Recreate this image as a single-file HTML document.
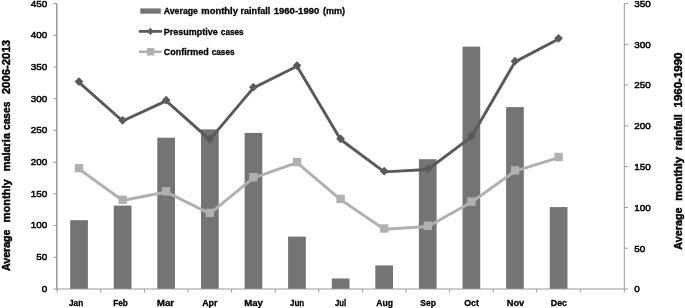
<!DOCTYPE html>
<html lang="en"><head><meta charset="utf-8"><title>Average monthly malaria cases and rainfall</title>
<style>html,body{margin:0;padding:0;background:#fff}body{width:685px;height:308px;overflow:hidden}svg{display:block}text{font-family:"Liberation Sans",sans-serif;fill:#000;stroke:#000}.leg{font-size:380px;stroke-width:12px;font-weight:bold}.xl{font-size:380px;stroke-width:12px;font-weight:bold}.tk{font-size:396px;stroke-width:20px}.ttl{font-size:472px;stroke-width:18px;font-weight:bold}</style></head><body>
<svg width="685" height="308" viewBox="0 0 685 308">
<rect width="685" height="308" fill="#fff"/>
<g fill="#747474">
<rect x="70.2" y="220.2" width="17.7" height="68.8"/>
<rect x="113.8" y="205.6" width="17.7" height="83.4"/>
<rect x="157.3" y="137.7" width="17.7" height="151.3"/>
<rect x="201.0" y="129.4" width="17.7" height="159.6"/>
<rect x="244.6" y="132.9" width="17.7" height="156.1"/>
<rect x="288.1" y="236.6" width="17.7" height="52.4"/>
<rect x="331.8" y="278.5" width="17.7" height="10.5"/>
<rect x="375.3" y="265.4" width="17.7" height="23.6"/>
<rect x="418.9" y="159.2" width="17.7" height="129.8"/>
<rect x="462.5" y="46.6" width="17.7" height="242.4"/>
<rect x="506.1" y="107.1" width="17.7" height="181.9"/>
<rect x="549.8" y="207.1" width="17.7" height="81.9"/>
</g>
<path d="M56.8 3.6V289.0" stroke="#8a8a8a" stroke-width="1.3" fill="none"/>
<g stroke="#9a9a9a" stroke-width="1" fill="none">
<path d="M56.2 289.0H624.8"/>
<path d="M624.3 3.6V289.5"/>
<path d="M53.3 289.0H56.8M53.3 257.3H56.8M53.3 225.6H56.8M53.3 193.9H56.8M53.3 162.2H56.8M53.3 130.4H56.8M53.3 98.7H56.8M53.3 67.0H56.8M53.3 35.3H56.8M53.3 3.6H56.8M624.3 289.0H628.0M624.3 248.2H628.0M624.3 207.5H628.0M624.3 166.7H628.0M624.3 125.9H628.0M624.3 85.1H628.0M624.3 44.4H628.0M624.3 3.6H628.0M57.2 289.0V292.6M100.8 289.0V292.6M144.4 289.0V292.6M188.0 289.0V292.6M231.6 289.0V292.6M275.2 289.0V292.6M318.8 289.0V292.6M362.4 289.0V292.6M406.0 289.0V292.6M449.6 289.0V292.6M493.2 289.0V292.6M536.8 289.0V292.6M580.4 289.0V292.6M624.3 289.0V292.6"/>
</g>
<polyline points="79.0,168.8 122.6,200.5 166.2,192.0 209.8,213.6 253.4,177.9 297.0,162.7 340.6,199.6 384.2,229.2 427.8,226.5 471.4,202.3 515.0,171.1 558.6,157.7" fill="none" stroke="#b0b0b0" stroke-width="2.9" stroke-linejoin="round" stroke-linecap="round"/>
<g fill="#b0b0b0">
<rect x="74.8" y="163.9" width="8.4" height="8.4"/>
<rect x="118.4" y="195.6" width="8.4" height="8.4"/>
<rect x="162.0" y="187.1" width="8.4" height="8.4"/>
<rect x="205.6" y="208.7" width="8.4" height="8.4"/>
<rect x="249.2" y="173.0" width="8.4" height="8.4"/>
<rect x="292.8" y="157.8" width="8.4" height="8.4"/>
<rect x="336.4" y="194.7" width="8.4" height="8.4"/>
<rect x="380.0" y="224.3" width="8.4" height="8.4"/>
<rect x="423.6" y="221.6" width="8.4" height="8.4"/>
<rect x="467.2" y="197.4" width="8.4" height="8.4"/>
<rect x="510.8" y="166.2" width="8.4" height="8.4"/>
<rect x="554.4" y="152.8" width="8.4" height="8.4"/>
</g>
<polyline points="79.0,82.3 122.6,121.0 166.2,100.9 209.8,139.6 253.4,87.9 297.0,66.3 340.6,139.5 384.2,171.9 427.8,169.5 471.4,136.9 515.0,61.9 558.6,39.0" fill="none" stroke="#5a5a5a" stroke-width="2.9" stroke-linejoin="round" stroke-linecap="round"/>
<g fill="#5a5a5a">
<path d="M79.0 77.2L83.4 81.6L79.0 86.0L74.6 81.6Z"/>
<path d="M122.6 115.9L127.0 120.3L122.6 124.7L118.2 120.3Z"/>
<path d="M166.2 95.8L170.6 100.2L166.2 104.6L161.8 100.2Z"/>
<path d="M209.8 134.5L214.2 138.9L209.8 143.3L205.4 138.9Z"/>
<path d="M253.4 82.8L257.8 87.2L253.4 91.6L249.0 87.2Z"/>
<path d="M297.0 61.2L301.4 65.6L297.0 70.0L292.6 65.6Z"/>
<path d="M340.6 134.4L345.0 138.8L340.6 143.2L336.2 138.8Z"/>
<path d="M384.2 166.8L388.6 171.2L384.2 175.6L379.8 171.2Z"/>
<path d="M427.8 164.4L432.2 168.8L427.8 173.2L423.4 168.8Z"/>
<path d="M471.4 131.8L475.8 136.2L471.4 140.6L467.0 136.2Z"/>
<path d="M515.0 56.8L519.4 61.2L515.0 65.6L510.6 61.2Z"/>
<path d="M558.6 33.9L563.0 38.3L558.6 42.7L554.2 38.3Z"/>
</g>
<rect x="140.3" y="8.4" width="20.5" height="5.3" fill="#747474"/>
<path d="M140 31.4H161" stroke="#5a5a5a" stroke-width="2.6" stroke-linecap="round"/>
<path d="M150.4 27.8L153.9 31.4L150.4 35L146.9 31.4Z" fill="#5a5a5a"/>
<path d="M140 51.8H161" stroke="#b0b0b0" stroke-width="2.6" stroke-linecap="round"/>
<rect x="146.9" y="48.1" width="7.4" height="7.4" fill="#b0b0b0"/>
<text class="leg" transform="translate(163.70 14.20) scale(0.025)" textLength="1372" lengthAdjust="spacingAndGlyphs">Average</text>
<text class="leg" transform="translate(201.30 14.20) scale(0.025)" textLength="1468" lengthAdjust="spacingAndGlyphs">monthly</text>
<text class="leg" transform="translate(240.50 14.20) scale(0.025)" textLength="1192" lengthAdjust="spacingAndGlyphs">rainfall</text>
<text class="leg" transform="translate(273.70 14.20) scale(0.025)" textLength="1824" lengthAdjust="spacingAndGlyphs">1960-1990</text>
<text class="leg" transform="translate(323.00 14.20) scale(0.025)" textLength="880" lengthAdjust="spacingAndGlyphs">(mm)</text>
<text class="leg" transform="translate(163.70 34.70) scale(0.025)" textLength="2164" lengthAdjust="spacingAndGlyphs">Presumptive</text>
<text class="leg" transform="translate(220.80 34.70) scale(0.025)" textLength="916" lengthAdjust="spacingAndGlyphs">cases</text>
<text class="leg" transform="translate(163.70 55.10) scale(0.025)" textLength="1800" lengthAdjust="spacingAndGlyphs">Confirmed</text>
<text class="leg" transform="translate(211.70 55.10) scale(0.025)" textLength="912" lengthAdjust="spacingAndGlyphs">cases</text>
<text class="xl" transform="translate(69.00 305.60) scale(0.025)" textLength="568" lengthAdjust="spacingAndGlyphs">Jan</text>
<text class="xl" transform="translate(113.20 305.60) scale(0.025)" textLength="584" lengthAdjust="spacingAndGlyphs">Feb</text>
<text class="xl" transform="translate(156.70 305.60) scale(0.025)" textLength="700" lengthAdjust="spacingAndGlyphs">Mar</text>
<text class="xl" transform="translate(202.20 305.60) scale(0.025)" textLength="612" lengthAdjust="spacingAndGlyphs">Apr</text>
<text class="xl" transform="translate(244.20 305.60) scale(0.025)" textLength="752" lengthAdjust="spacingAndGlyphs">May</text>
<text class="xl" transform="translate(290.00 305.60) scale(0.025)" textLength="568" lengthAdjust="spacingAndGlyphs">Jun</text>
<text class="xl" transform="translate(335.00 305.60) scale(0.025)" textLength="448" lengthAdjust="spacingAndGlyphs">Jul</text>
<text class="xl" transform="translate(376.30 305.60) scale(0.025)" textLength="668" lengthAdjust="spacingAndGlyphs">Aug</text>
<text class="xl" transform="translate(420.30 305.60) scale(0.025)" textLength="620" lengthAdjust="spacingAndGlyphs">Sep</text>
<text class="xl" transform="translate(464.20 305.60) scale(0.025)" textLength="584" lengthAdjust="spacingAndGlyphs">Oct</text>
<text class="xl" transform="translate(506.70 305.60) scale(0.025)" textLength="700" lengthAdjust="spacingAndGlyphs">Nov</text>
<text class="xl" transform="translate(550.80 305.60) scale(0.025)" textLength="648" lengthAdjust="spacingAndGlyphs">Dec</text>
<text class="tk" transform="translate(47.2 291.90) scale(0.025)" text-anchor="end">0</text>
<text class="tk" transform="translate(47.2 260.19) scale(0.025)" text-anchor="end">50</text>
<text class="tk" transform="translate(47.2 228.48) scale(0.025)" text-anchor="end">100</text>
<text class="tk" transform="translate(47.2 196.77) scale(0.025)" text-anchor="end">150</text>
<text class="tk" transform="translate(47.2 165.06) scale(0.025)" text-anchor="end">200</text>
<text class="tk" transform="translate(47.2 133.34) scale(0.025)" text-anchor="end">250</text>
<text class="tk" transform="translate(47.2 101.63) scale(0.025)" text-anchor="end">300</text>
<text class="tk" transform="translate(47.2 69.92) scale(0.025)" text-anchor="end">350</text>
<text class="tk" transform="translate(47.2 38.21) scale(0.025)" text-anchor="end">400</text>
<text class="tk" transform="translate(47.2 6.50) scale(0.025)" text-anchor="end">450</text>
<text class="tk" transform="translate(634.2 292.30) scale(0.025)">0</text>
<text class="tk" transform="translate(634.2 251.53) scale(0.025)">50</text>
<text class="tk" transform="translate(634.2 210.76) scale(0.025)">100</text>
<text class="tk" transform="translate(634.2 169.99) scale(0.025)">150</text>
<text class="tk" transform="translate(634.2 129.21) scale(0.025)">200</text>
<text class="tk" transform="translate(634.2 88.44) scale(0.025)">250</text>
<text class="tk" transform="translate(634.2 47.67) scale(0.025)">300</text>
<text class="tk" transform="translate(634.2 6.90) scale(0.025)">350</text>
<text class="ttl" transform="translate(9.50 271.00) rotate(-90) scale(0.025)" textLength="1660" lengthAdjust="spacingAndGlyphs">Average</text>
<text class="ttl" transform="translate(9.50 222.50) rotate(-90) scale(0.025)" textLength="1732" lengthAdjust="spacingAndGlyphs">monthly</text>
<text class="ttl" transform="translate(9.50 171.30) rotate(-90) scale(0.025)" textLength="1532" lengthAdjust="spacingAndGlyphs">malaria</text>
<text class="ttl" transform="translate(9.50 130.00) rotate(-90) scale(0.025)" textLength="1132" lengthAdjust="spacingAndGlyphs">cases</text>
<text class="ttl" transform="translate(9.50 94.20) rotate(-90) scale(0.025)" textLength="2168" lengthAdjust="spacingAndGlyphs">2006-2013</text>
<text class="ttl" transform="translate(682.30 249.70) rotate(-90) scale(0.025)" textLength="1688" lengthAdjust="spacingAndGlyphs">Average</text>
<text class="ttl" transform="translate(682.30 200.80) rotate(-90) scale(0.025)" textLength="1764" lengthAdjust="spacingAndGlyphs">monthly</text>
<text class="ttl" transform="translate(682.30 150.30) rotate(-90) scale(0.025)" textLength="1444" lengthAdjust="spacingAndGlyphs">rainfall</text>
<text class="ttl" transform="translate(682.30 107.50) rotate(-90) scale(0.025)" textLength="2200" lengthAdjust="spacingAndGlyphs">1960-1990</text>
</svg></body></html>
